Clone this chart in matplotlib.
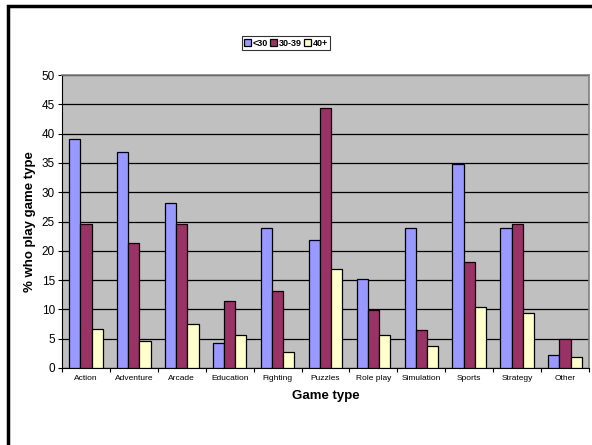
#!/usr/bin/env python3
"""
Game types played by age group - grouped bar chart
"""
import numpy as np
import matplotlib.pyplot as plt
from matplotlib.patches import Rectangle

plt.rcParams['font.family'] = ['Liberation Sans', 'DejaVu Sans']

# Daten
categories = ['Action', 'Adventure', 'Arcade', 'Education', 'Fighting', 'Puzzles',
              'Role play', 'Simulation', 'Sports', 'Strategy', 'Other']
under_30 = [39.1, 36.9, 28.2, 4.3, 23.9, 21.8, 15.2, 23.9, 34.8, 23.9, 2.2]
age_30_39 = [24.5, 21.3, 24.5, 11.5, 13.1, 44.3, 9.9, 6.5, 18.1, 24.5, 4.9]
over_40 = [6.6, 4.6, 7.5, 5.6, 2.8, 16.9, 5.6, 3.7, 10.4, 9.4, 1.9]
series_labels = ['<30', '30-39', '40+']
y_ticks = [0, 5, 10, 15, 20, 25, 30, 35, 40, 45, 50]

colors = ['#9999FF', '#993366', '#FFFFCC']

W, H = 592, 445
fig = plt.figure(figsize=(W / 100, H / 100), dpi=100)

# Plotbereich in Pixeln: links 62, rechts 589, oben 75, unten 368
ax = fig.add_axes([62 / W, 1 - 368 / H, (589 - 62) / W, (368 - 75) / H])
ax.set_facecolor('#C0C0C0')

x = np.arange(len(categories))
bw = 0.233
for i, (vals, lab) in enumerate(zip([under_30, age_30_39, over_40], series_labels)):
    ax.bar(x + (i - 1) * bw, vals, width=bw, color=colors[i], edgecolor='black',
           linewidth=0.9, label=lab, zorder=3)

ax.set_xlim(-0.5, len(categories) - 0.5)
ax.set_ylim(0, 50)
ax.set_yticks(y_ticks)
ax.set_yticklabels([str(t) for t in y_ticks], fontsize=8.5)
ax.yaxis.grid(True, color='black', linewidth=0.9, zorder=1)
ax.set_axisbelow(True)

# X-Ticks an den Kategoriegrenzen, Beschriftung mittig
ax.set_xticks(np.arange(len(categories) + 1) - 0.5)
ax.set_xticklabels([])
ax.set_xticks(x, minor=True)
ax.set_xticklabels(categories, minor=True, fontsize=6)
ax.tick_params(axis='x', which='minor', length=0, pad=5)
ax.tick_params(axis='x', which='major', length=3, width=0.8, direction='out')
ax.tick_params(axis='y', length=3, width=0.8, direction='out', pad=2)

for side in ['top', 'right']:
    ax.spines[side].set_color('#808080')
    ax.spines[side].set_linewidth(1.2)
for side in ['left', 'bottom']:
    ax.spines[side].set_color('black')
    ax.spines[side].set_linewidth(0.8)

ax.set_xlabel('Game type', fontsize=9.5, fontweight='bold', labelpad=6)
ax.set_ylabel('% who play game type', fontsize=9.5, fontweight='bold', labelpad=4)

leg = fig.legend(loc='center', bbox_to_anchor=(286 / W, 1 - 43 / H), ncol=3,
                 prop={'weight': 'bold', 'size': 6.5},
                 frameon=True, fancybox=False, edgecolor='black',
                 handlelength=0.7, handleheight=0.7, handletextpad=0.2,
                 columnspacing=0.3, borderpad=0.3, borderaxespad=0)
leg.get_frame().set_linewidth(0.8)

# Rahmen um das Diagramm (rechts und unten abgeschnitten)
fig.add_artist(Rectangle((8 / W, -0.1), 1.2, 1 - 6 / H + 0.1, transform=fig.transFigure,
                         fill=False, edgecolor='black', linewidth=2.5, clip_on=False))

plt.savefig('out.png', dpi=100)
